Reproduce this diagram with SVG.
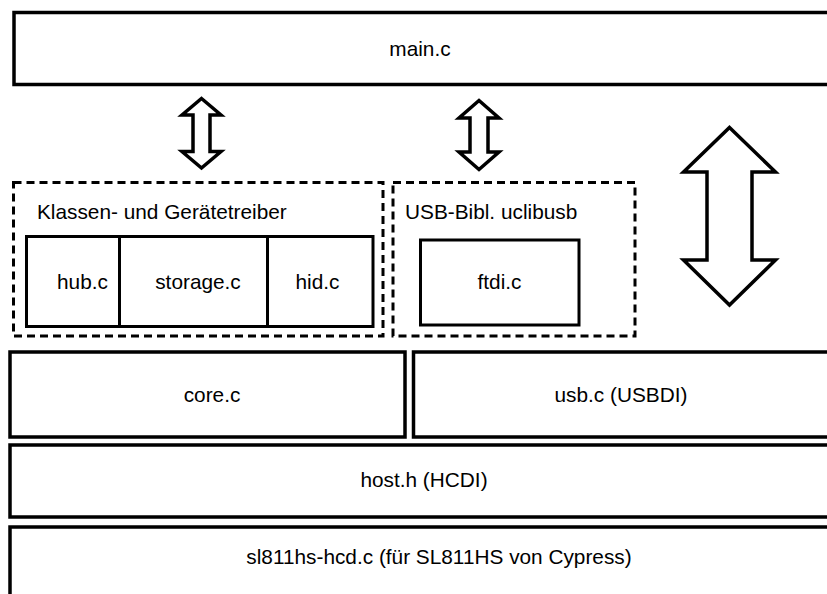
<svg xmlns="http://www.w3.org/2000/svg" width="827" height="594" viewBox="0 0 827 594">
  <style>
    .box { fill: #fff; stroke: #000; stroke-width: 3.5; }
    .inner { fill: #fff; stroke: #000; stroke-width: 3; }
    .group { fill: none; stroke: #000; stroke-width: 3; stroke-dasharray: 8 5; }
    .arrow { fill: #fff; stroke: #000; stroke-width: 3.5; stroke-linejoin: miter; }
    .label { font-family: "Liberation Sans", Arial, sans-serif; font-size: 20.8px; fill: #000; }
    .mid { text-anchor: middle; }
  </style>
  <rect width="827" height="594" fill="#fff"/>

  <g id="main">
    <rect class="box" x="14" y="12.5" width="830" height="72"/>
    <text class="label mid" x="420" y="56">main.c</text>
  </g>

  <g id="class-drivers">
    <rect class="group" x="13.5" y="182.5" width="369.5" height="153.5"/>
    <text class="label" x="37" y="219">Klassen- und Gerätetreiber</text>
  </g>
  <g id="hub">
    <rect class="inner" x="26.5" y="236.5" width="93" height="90"/>
    <text class="label mid" x="82.5" y="289">hub.c</text>
  </g>
  <g id="storage">
    <rect class="inner" x="119.5" y="236.5" width="148" height="90"/>
    <text class="label mid" x="198" y="289">storage.c</text>
  </g>
  <g id="hid">
    <rect class="inner" x="267.5" y="236.5" width="105.5" height="90"/>
    <text class="label mid" x="317.5" y="289">hid.c</text>
  </g>

  <g id="uclibusb">
    <rect class="group" x="393" y="182.5" width="242" height="153.5"/>
    <text class="label" x="405" y="219">USB-Bibl. uclibusb</text>
  </g>
  <g id="ftdi">
    <rect class="inner" x="420.5" y="240" width="158.5" height="85"/>
    <text class="label mid" x="499.5" y="289">ftdi.c</text>
  </g>

  <g id="core">
    <rect class="box" x="10" y="352" width="395" height="85"/>
    <text class="label mid" x="212" y="402">core.c</text>
  </g>
  <g id="usb">
    <rect class="box" x="413.5" y="352" width="430" height="85"/>
    <text class="label mid" x="621" y="402">usb.c (USBDI)</text>
  </g>
  <g id="host">
    <rect class="box" x="10" y="445" width="834" height="72"/>
    <text class="label mid" x="424" y="487">host.h (HCDI)</text>
  </g>
  <g id="hcd">
    <rect class="box" x="10" y="527" width="834" height="90"/>
    <text class="label mid" x="439" y="564">sl811hs-hcd.c (für SL811HS von Cypress)</text>
  </g>

  <g id="connectors">
    <path class="arrow" d="M201.5,98.5 L221,115 L210,115 L210,151.5 L221,151.5 L201.5,168 L182,151.5 L193,151.5 L193,115 L182,115 Z"/>
    <path class="arrow" d="M479,100.5 L499,118 L488,118 L488,152 L499,152 L479,169.5 L459,152 L470,152 L470,118 L459,118 Z"/>
    <path class="arrow" d="M729.5,127.5 L775.5,172 L752,172 L752,260 L775.5,260 L729.5,305 L683.5,260 L707,260 L707,172 L683.5,172 Z"/>
  </g>
</svg>
